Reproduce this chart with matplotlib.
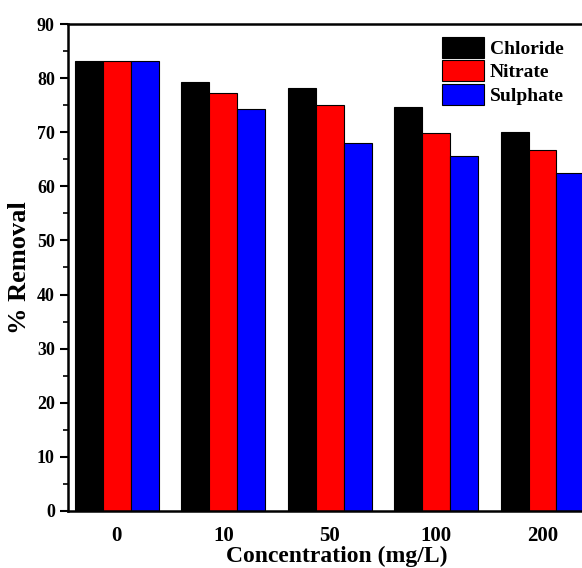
import matplotlib
matplotlib.use("Agg")
import matplotlib.pyplot as plt
import numpy as np
from matplotlib.ticker import MultipleLocator

categories = ["0", "10", "50", "100", "200"]
chloride = [83.1, 79.3, 78.1, 74.6, 70.0]
nitrate = [83.1, 77.2, 75.0, 69.8, 66.7]
sulphate = [83.1, 74.3, 68.1, 65.6, 62.4]
series_names = ["Chloride", "Nitrate", "Sulphate"]
colors = ["#000000", "#ff0000", "#0000ff"]

plt.rcParams['font.family'] = ['Liberation Serif', 'DejaVu Serif']
plt.rcParams['font.weight'] = 'bold'

fig = plt.figure(figsize=(5.82, 5.68), dpi=100)
ax = fig.add_axes([0.1168, 0.1004, 0.925, 0.8573])

x = np.arange(len(categories))
w = 0.262
for i, (vals, name, c) in enumerate(zip([chloride, nitrate, sulphate], series_names, colors)):
    ax.bar(x + (i - 1) * w, vals, width=w, color=c, edgecolor='black',
           linewidth=0.8, label=name)

ax.set_xlim(-0.46, 4.60)
ax.set_ylim(0, 90)
ax.yaxis.set_major_locator(MultipleLocator(10))
ax.yaxis.set_minor_locator(MultipleLocator(5))
ax.set_xticks(x)
ax.set_xticklabels(categories, fontsize=15, fontweight='bold')
ax.tick_params(axis='x', length=0, pad=11)
ax.tick_params(axis='y', which='major', length=6, width=1.5, labelsize=13, direction='out')
ax.tick_params(axis='y', which='minor', length=3.5, width=1.2, direction='out')
for lab in ax.get_yticklabels():
    lab.set_fontweight('bold')
for s in ax.spines.values():
    s.set_linewidth(1.8)

ax.set_xlabel("Concentration (mg/L)", fontsize=17, fontweight='bold', labelpad=0)
ax.set_ylabel("% Removal", fontsize=19, fontweight='bold', labelpad=4)

leg = ax.legend(loc='upper left', bbox_to_anchor=(0.672, 1.0), frameon=False,
                fontsize=14, handlelength=2.15, handleheight=1.3,
                handletextpad=0.3, labelspacing=0.12, borderaxespad=0.25)
for t in leg.get_texts():
    t.set_fontweight('bold')

fig.savefig("out.png", dpi=100)
